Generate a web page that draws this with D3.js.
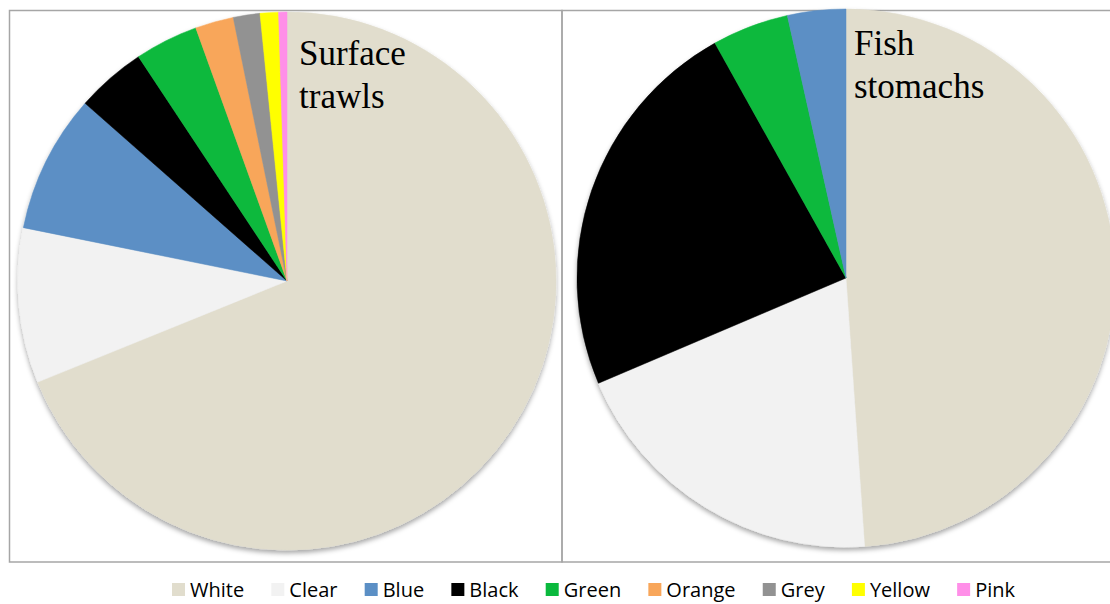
<!DOCTYPE html>
<html><head><meta charset="utf-8">
<script src="https://cdn.jsdelivr.net/npm/d3@7"></script>
<style>body{margin:0;background:#fff;}svg{display:block;}</style>
</head><body>
<svg id="chart" width="1110" height="604"></svg>
<script>
const legendCategories = ["White","Clear","Blue","Black","Green","Orange","Grey","Yellow","Pink"];
const categoryColors = ["#E1DDCD","#F2F2F2","#5B8FC5","#000000","#0AB93D","#F8A65A","#929292","#FFFF00","#FF8FE8"];
const trawlCategories = ["White","Clear","Blue","Black","Green","Orange","Grey","Yellow","Pink"];
const trawlValues = [68.8, 9.3, 8.3, 4.2, 3.8, 2.3, 1.6, 1.1, 0.5];
const stomachCategories = ["White","Clear","Black","Green","Blue"];
const stomachValues = [48.9, 19.7, 23.3, 4.6, 3.5];
const titles = [["Surface","trawls"],["Fish","stomachs"]];

const svg = d3.select("#chart");
const color = d3.scaleOrdinal().domain(legendCategories).range(categoryColors);

const defs = svg.append("defs");
const f = defs.append("filter").attr("id","shadow").attr("x","-10%").attr("y","-10%").attr("width","120%").attr("height","125%");
f.append("feDropShadow").attr("dx",0).attr("dy",3).attr("stdDeviation",2.5).attr("flood-color","#000").attr("flood-opacity",0.35);

// panel borders
svg.append("rect").attr("x",9.5).attr("y",10.5).attr("width",552.5).attr("height",551.5)
  .attr("fill","none").attr("stroke","#A6A6A6").attr("stroke-width",1.5);
svg.append("rect").attr("x",562).attr("y",10.5).attr("width",560).attr("height",551.5)
  .attr("fill","none").attr("stroke","#A6A6A6").attr("stroke-width",1.5);

const pie = d3.pie().sort(null).value(d => d.v);
const r = 269;
const arc = d3.arc().innerRadius(0).outerRadius(r);

const panels = [
  {cats: trawlCategories, vals: trawlValues, cx: 287, cy: 281, title: titles[0], tx: 299, ty: 65},
  {cats: stomachCategories, vals: stomachValues, cx: 846, cy: 278, title: titles[1], tx: 854, ty: 55}
];
panels.forEach(p => {
  const data = p.cats.map((c,i) => ({c, v: p.vals[i]}));
  const g = svg.append("g").attr("transform",`translate(${p.cx},${p.cy})`);
  const gs = g.append("g").attr("filter","url(#shadow)");
  gs.selectAll("path").data(pie(data)).join("path")
    .attr("d", arc).attr("fill", d => color(d.data.c))
    .attr("stroke", d => color(d.data.c)).attr("stroke-width",0.5);
  const t = svg.append("text").attr("x",p.tx).attr("y",p.ty)
    .attr("font-family","'Liberation Serif','Times New Roman',serif").attr("font-size",35).attr("fill","#000");
  p.title.forEach((line,i) => t.append("tspan").attr("x",p.tx).attr("dy", i===0?0:43).text(line));
});

// legend
const lg = svg.append("g");
const items = lg.selectAll("g").data(legendCategories).join("g");
items.append("rect").attr("width",13).attr("height",13).attr("y",-14).attr("fill", d => color(d));
items.append("text").attr("x",18).attr("y",0).attr("font-family","'Open Sans',sans-serif")
  .attr("font-size",20).attr("fill","#000").text(d => d);
const widths = [];
items.each(function(){ widths.push(18 + d3.select(this).select("text").node().getComputedTextLength()); });
const span = 1015 - 172;
const gap = (span - d3.sum(widths)) / (widths.length - 1);
let x = 0;
items.each(function(d,i){
  d3.select(this).attr("transform",`translate(${x},0)`);
  x += widths[i] + gap;
});
lg.attr("transform",`translate(172,597)`);
</script>
</body></html>
